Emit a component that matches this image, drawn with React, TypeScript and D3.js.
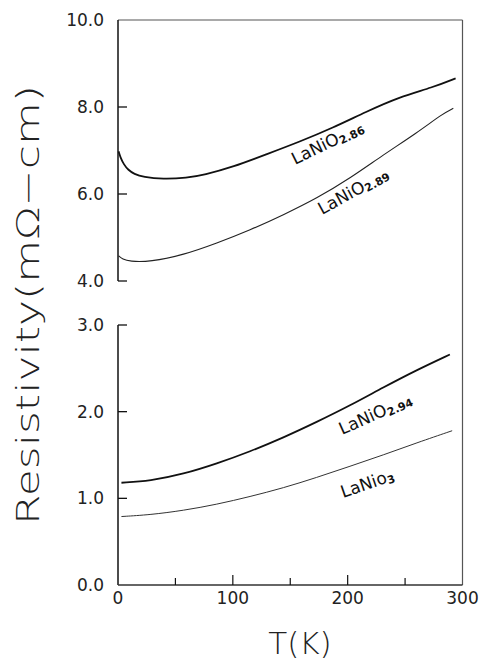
import * as d3 from 'd3'

// LaNiO2.86 (upper panel, heavy line)
const t286 = [0.5, 2, 5, 9, 14, 22, 39, 60, 75, 100, 130, 158, 187, 216, 245, 274, 294]
const r286 = [6.98, 6.85, 6.68, 6.55, 6.46, 6.39, 6.34, 6.37, 6.44, 6.62, 6.92, 7.2, 7.52, 7.89, 8.23, 8.45, 8.66]
// LaNiO2.89 (upper panel, light line)
const t289 = [0.5, 4, 10, 28, 57, 86, 115, 144, 173, 202, 231, 260, 283, 292]
const r289 = [4.58, 4.5, 4.45, 4.44, 4.6, 4.87, 5.17, 5.52, 5.9, 6.36, 6.9, 7.4, 7.85, 7.97]
// LaNiO2.94 (lower panel, heavy line)
const t294 = [3, 28, 57, 86, 115, 144, 173, 202, 231, 260, 289]
const r294 = [1.18, 1.2, 1.28, 1.4, 1.54, 1.7, 1.88, 2.07, 2.28, 2.48, 2.66]
// LaNiO3 (lower panel, light line)
const t3 = [3, 28, 57, 86, 115, 144, 173, 202, 231, 260, 291]
const r3 = [0.79, 0.81, 0.86, 0.93, 1.02, 1.12, 1.24, 1.37, 1.5, 1.64, 1.78]

const xTicks = [0, 100, 200, 300]
const xMinor = [50, 150, 250]
const topTicks = [10, 8, 6, 4]
const botTicks = [3, 2, 1, 0]

const font = "'DejaVu Sans', sans-serif"

function App() {
  const x = d3.scaleLinear().domain([0, 300]).range([118, 462.5])
  const yTop = d3.scaleLinear().domain([4, 10]).range([281, 20])
  const yBot = d3.scaleLinear().domain([0, 3]).range([585, 325])

  const mk = (ts: number[], rs: number[], y: d3.ScaleLinear<number, number>) =>
    d3.line<number>()
      .x((_, i) => x(ts[i]))
      .y(d => y(d))
      .curve(d3.curveBasis)(rs) || ''

  const label = (px: number, py: number, ang: number, main: string, sub: string) => (
    <text transform={`translate(${px},${py}) rotate(${ang})`} fontFamily={font} fontSize={17} fill="#111">
      {main}
      <tspan fontSize={11} dy={2} fontWeight="bold">{sub}</tspan>
    </text>
  )

  const x0 = x(0), x1 = x(300)

  return (
    <svg width={482} height={663} style={{ position: 'absolute', left: 0, top: 0, background: '#fff' }}>
      {/* frame */}
      <line x1={x0} x2={x1} y1={yTop(10)} y2={yTop(10)} stroke="#555" strokeWidth={1.2} />
      <line x1={x1} x2={x1} y1={yTop(10)} y2={yBot(0)} stroke="#555" strokeWidth={1.2} />
      <line x1={x0} x2={x0} y1={yTop(10)} y2={yTop(4)} stroke="#111" strokeWidth={1.5} />
      <line x1={x0} x2={x0} y1={yBot(3)} y2={yBot(0)} stroke="#111" strokeWidth={1.5} />
      <line x1={x0} x2={x1} y1={yBot(0)} y2={yBot(0)} stroke="#333" strokeWidth={1.5} />

      {topTicks.map(v => (
        <g key={'t' + v}>
          {v !== 10 && <line x1={x0} x2={x0 + 9} y1={yTop(v)} y2={yTop(v)} stroke="#111" strokeWidth={1.3} />}
          <text x={104} y={yTop(v)} dy="0.36em" textAnchor="end" fontFamily={font} fontSize={17} fill="#222">{v.toFixed(1)}</text>
        </g>
      ))}
      {botTicks.map(v => (
        <g key={'b' + v}>
          {v !== 0 && <line x1={x0} x2={x0 + 9} y1={yBot(v)} y2={yBot(v)} stroke="#111" strokeWidth={1.3} />}
          <text x={104} y={yBot(v)} dy="0.36em" textAnchor="end" fontFamily={font} fontSize={17} fill="#222">{v.toFixed(1)}</text>
        </g>
      ))}
      {xTicks.map(v => (
        <g key={'x' + v}>
          {v > 0 && v < 300 && <line x1={x(v)} x2={x(v)} y1={yBot(0)} y2={yBot(0) - 10} stroke="#111" strokeWidth={1.2} />}
          <text x={x(v)} y={yBot(0) + 19} textAnchor="middle" fontFamily={font} fontSize={17} fill="#222">{v}</text>
        </g>
      ))}
      {xMinor.map(v => (
        <line key={'m' + v} x1={x(v)} x2={x(v)} y1={yBot(0)} y2={yBot(0) - 7} stroke="#111" strokeWidth={1.2} />
      ))}

      {/* curves */}
      <path d={mk(t286, r286, yTop)} fill="none" stroke="#111" strokeWidth={1.8} />
      <path d={mk(t289, r289, yTop)} fill="none" stroke="#222" strokeWidth={1.1} />
      <path d={mk(t294, r294, yBot)} fill="none" stroke="#111" strokeWidth={1.8} />
      <path d={mk(t3, r3, yBot)} fill="none" stroke="#333" strokeWidth={1} />

      {label(295, 165, -26, 'LaNiO', '2.86')}
      {label(322, 215, -29, 'LaNiO', '2.89')}
      {label(342, 435, -24, 'LaNiO', '2.94')}
      {label(343, 498, -19, 'LaNio', '3')}

      {/* axis titles */}
      <text transform="translate(39,305) rotate(-90)" textAnchor="middle" fontFamily={font} fontSize={32}
        fill="#222" textLength={440} lengthAdjust="spacingAndGlyphs" style={{ fontWeight: 300 }}>Resistivity(mΩ−cm)</text>
      <text x={300} y={654} textAnchor="middle" fontFamily={font} fontSize={31} fill="#222" style={{ fontWeight: 300 }}>T(K)</text>
    </svg>
  )
}

export default App
